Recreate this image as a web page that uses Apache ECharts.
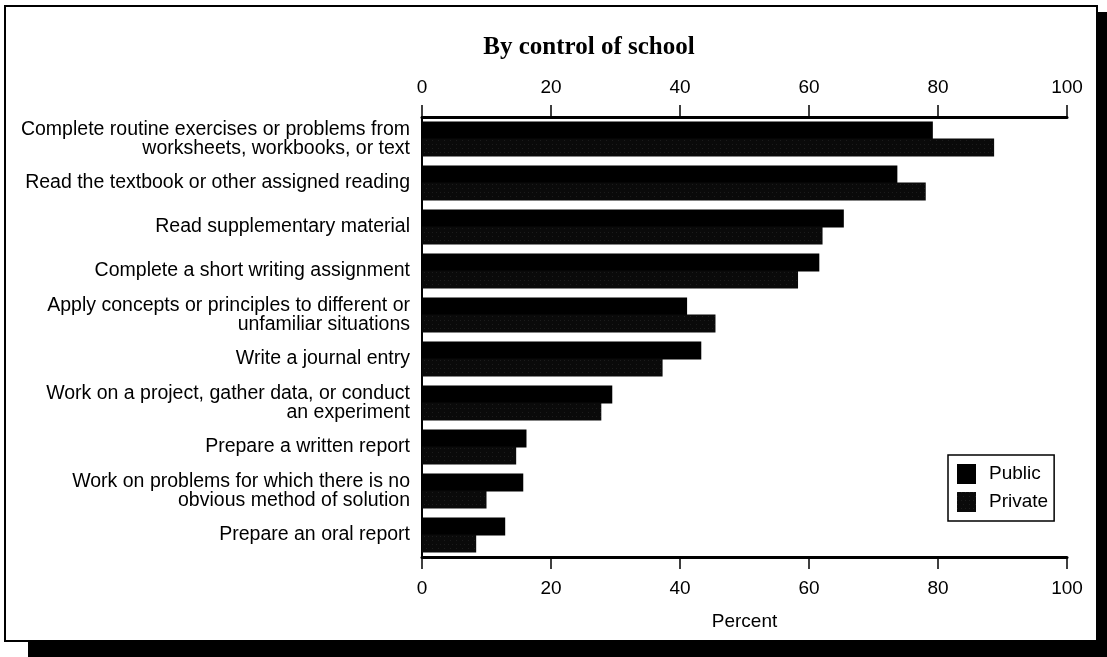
<!DOCTYPE html>
<html>
<head>
<meta charset="utf-8">
<script src="https://cdn.jsdelivr.net/npm/echarts@6/dist/echarts.min.js"></script>
<style>html,body{margin:0;padding:0;background:#fff;}#c{width:1107px;height:657px;}</style>
</head>
<body>
<div id="c"></div>
<script>
const categories = [
  "Complete routine exercises or problems from\nworksheets, workbooks, or text",
  "Read the textbook or other assigned reading",
  "Read supplementary material",
  "Complete a short writing assignment",
  "Apply concepts or principles to different or\nunfamiliar situations",
  "Write a journal entry",
  "Work on a project, gather data, or conduct\nan experiment",
  "Prepare a written report",
  "Work on problems for which there is no\nobvious method of solution",
  "Prepare an oral report"
];
const publicValues = [79.2, 73.7, 65.4, 61.6, 41.1, 43.3, 29.5, 16.2, 15.7, 12.9];
const privateValues = [88.7, 78.1, 62.1, 58.3, 45.5, 37.3, 27.8, 14.6, 10.0, 8.4];
const tickValues = [0, 20, 40, 60, 80, 100];

const chart = echarts.init(document.getElementById('c'));
const font = '"Liberation Sans", Arial, sans-serif';
const axisCommon = {
  type: 'value', min: tickValues[0], max: tickValues[tickValues.length - 1], interval: 20,
  axisLine: {show: true, lineStyle: {color: '#000', width: 3}},
  axisTick: {show: true, length: 12, inside: false, lineStyle: {color: '#000', width: 1.5}},
  axisLabel: {color: '#000', fontSize: 19, fontFamily: font, margin: 20},
  splitLine: {show: false}
};
chart.setOption({
  animation: false,
  aria: {enabled: true, decal: {show: true}},
  backgroundColor: '#fff',
  title: {
    text: 'By control of school', left: 584, textAlign: 'center', top: 30,
    textStyle: {fontFamily: '"Liberation Serif", "Times New Roman", serif', fontWeight: 'bold', fontSize: 25, color: '#000'}
  },
  graphic: [
    {type: 'rect', shape: {x: 28, y: 641, width: 1079, height: 16}, style: {fill: '#000'}, z: -1},
    {type: 'rect', shape: {x: 1097, y: 12, width: 10, height: 645}, style: {fill: '#000'}, z: -1},
    {type: 'rect', shape: {x: 5, y: 6, width: 1092, height: 635}, style: {fill: 'none', stroke: '#000', lineWidth: 2}, z: 0}
  ],
  legend: {
    data: ['Public', 'Private'], orient: 'vertical', left: 948, top: 455,
    itemWidth: 19, itemHeight: 20, itemGap: 8, icon: 'rect',
    borderColor: '#000', borderWidth: 1.5, padding: [9, 6, 9, 9],
    textStyle: {fontSize: 19, fontFamily: font, color: '#000', padding: [0, 0, 0, 8]}
  },
  grid: {left: 422, right: 40, top: 117, bottom: 100, containLabel: false},
  xAxis: [
    Object.assign({}, axisCommon, {position: 'top'}),
    Object.assign({}, axisCommon, {position: 'bottom', name: 'Percent', nameLocation: 'middle', nameGap: 55,
      axisLabel: Object.assign({}, axisCommon.axisLabel, {margin: 22}),
      nameTextStyle: {color: '#000', fontSize: 19, fontFamily: font}})
  ],
  yAxis: {
    type: 'category', data: categories, inverse: true,
    axisLine: {show: true, lineStyle: {color: '#000', width: 2}},
    axisTick: {show: false},
    axisLabel: {color: '#000', fontSize: 19.5, fontFamily: font, margin: 12, lineHeight: 19, align: 'right'}
  },
  series: [
    {name: 'Public', type: 'bar', xAxisIndex: 0, data: publicValues, barWidth: 18, barGap: '-5%',
      itemStyle: {color: '#000', decal: {symbol: 'none'}}},
    {name: 'Private', type: 'bar', xAxisIndex: 0, data: privateValues, barWidth: 18,
      itemStyle: {color: '#0a0a0a', decal: {symbol: 'circle', symbolSize: 0.5, color: 'rgba(170,170,170,0.7)', dashArrayX: [[1, 5], [1, 3]], dashArrayY: [1, 3], rotation: 0}}}
  ]
});
</script>
</body>
</html>
